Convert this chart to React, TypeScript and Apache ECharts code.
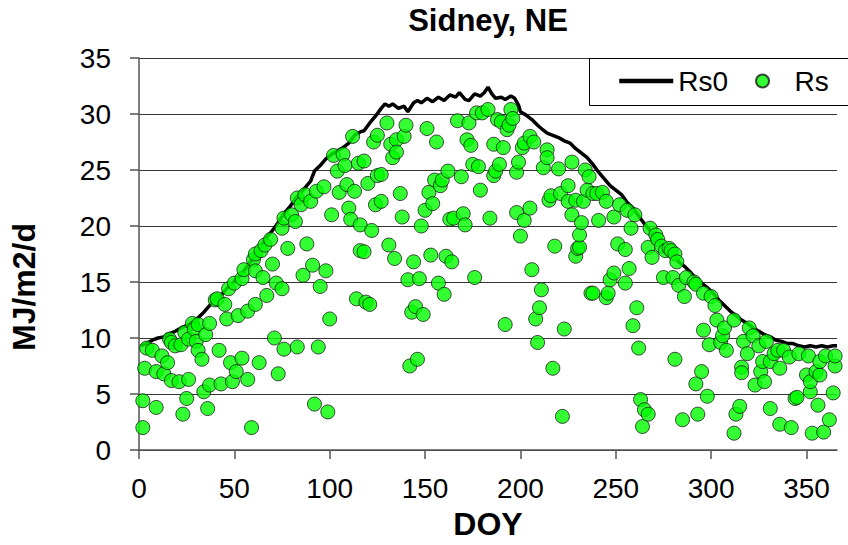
import React, { useEffect, useRef } from "react";
import * as echarts from "echarts";

const FONT = "'Liberation Sans', Arial, sans-serif";

const titleText = "Sidney, NE";
const xAxisName = "DOY";
const yAxisName = "MJ/m2/d";
const seriesNames = ["Rs0", "Rs"];
const xTicks = [0, 50, 100, 150, 200, 250, 300, 350];

// Clear-sky radiation Rs0: [DOY, MJ/m2/d]
const rs0Points: [number, number][] = [
  [1, 9.3], [4, 9.5], [7, 9.8], [10, 10.0], [13, 10.1], [16, 10.4], [19, 10.6], [22, 10.9],
  [25, 11.1], [28, 11.4], [31, 11.8], [34, 12.3], [37, 12.9], [40, 13.5], [43, 13.8], [46, 14.4],
  [49, 14.9], [52, 15.4], [55, 16.0], [58, 16.7], [61, 17.4], [64, 18.2], [67, 19.0], [70, 19.6],
  [73, 20.3], [76, 21.1], [79, 21.7], [82, 22.4], [85, 23.0], [88, 23.6], [90, 24.0], [92, 24.9],
  [95, 25.4], [98, 26.0], [101, 26.4], [104, 26.7], [107, 27.0], [110, 27.4], [113, 28.1], [116, 28.4],
  [118, 28.5], [121, 29.2], [124, 29.8], [127, 30.5], [129, 30.9], [131, 30.7], [133, 30.9], [136, 30.5],
  [139, 30.7], [141, 30.2], [144, 31.0], [146, 31.2], [148, 31.0], [151, 31.4], [154, 31.1], [157, 31.5],
  [160, 31.2], [163, 31.7], [166, 31.5], [168, 31.9], [171, 31.3], [173, 31.2], [176, 31.8], [179, 31.6],
  [181, 31.9], [183, 32.4], [185, 31.8], [187, 31.4], [190, 31.5], [192, 31.3], [195, 31.6], [197, 31.4],
  [199, 30.8], [200, 30.2], [203, 29.9], [206, 29.5], [209, 29.0], [211, 28.7], [214, 28.3], [217, 28.1],
  [220, 27.9], [223, 27.6], [226, 27.4], [229, 26.9], [232, 26.5], [235, 26.1], [238, 25.5], [241, 24.8],
  [244, 24.2], [247, 23.6], [250, 23.2], [253, 22.8], [256, 22.1], [259, 21.6], [262, 20.9], [265, 20.2],
  [268, 19.6], [271, 18.9], [274, 18.3], [277, 17.8], [280, 17.3], [283, 16.8], [286, 16.4], [289, 15.9],
  [292, 15.3], [295, 14.9], [298, 14.5], [301, 14.0], [304, 13.4], [307, 12.9], [310, 12.4], [313, 12.0],
  [316, 11.6], [319, 11.3], [322, 10.9], [325, 10.6], [328, 10.3], [331, 10.1], [334, 9.8], [337, 9.7],
  [340, 9.5], [343, 9.5], [346, 9.3], [349, 9.2], [352, 9.3], [355, 9.2], [358, 9.3], [361, 9.2],
  [364, 9.3], [366, 9.3],
];

// Measured solar radiation Rs, days 1-100
const rsWinterSpring: [number, number][] = [
  [2, 4.4], [9, 3.8], [2, 2.0], [3, 7.3], [4, 9.1], [7, 8.9], [9, 7.0], [12, 8.4], [13, 6.8], [15, 7.8],
  [16, 9.9], [17, 9.6], [17, 6.2], [19, 9.3], [21, 6.1], [22, 9.4], [23, 3.2], [24, 10.5], [25, 4.6],
  [26, 6.3], [26, 9.9], [28, 11.3], [29, 10.8], [30, 9.7], [31, 11.2], [31, 8.9], [33, 8.1], [34, 5.2],
  [35, 10.3], [36, 3.7], [37, 5.8], [37, 11.3], [40, 13.4], [41, 13.5], [42, 8.9], [43, 5.9], [45, 13.0],
  [46, 11.7], [47, 14.4], [48, 7.8], [49, 6.1], [50, 14.9], [51, 7.0], [52, 12.0], [54, 15.3], [54, 8.2],
  [55, 16.1], [57, 12.4], [57, 6.3], [59, 2.0], [60, 17.0], [61, 13.0], [61, 16.0], [61, 17.5], [63, 7.8],
  [64, 17.8], [65, 15.4], [66, 18.3], [67, 13.8], [69, 18.8], [70, 16.6], [71, 10.0], [72, 14.9], [73, 6.8],
  [75, 14.4], [75, 19.8], [76, 9.0], [76, 20.7], [78, 18.0], [80, 21.0], [82, 20.4], [83, 9.2], [83, 22.5],
  [85, 21.9], [86, 15.6], [87, 22.8], [88, 18.4], [90, 22.2], [91, 16.5], [92, 4.1], [93, 23.1], [94, 9.2],
  [95, 14.6], [97, 23.5], [98, 16.0], [99, 3.4], [100, 11.7],
];

// Measured solar radiation Rs, days 101-200
const rsSummer: [number, number][] = [
  [101, 21.0], [102, 26.3], [104, 24.9], [105, 23.0], [107, 26.4], [108, 25.4], [109, 23.7], [110, 21.6],
  [111, 20.6], [112, 28.0], [113, 23.1], [114, 13.5], [115, 25.6], [116, 20.1], [116, 17.8], [118, 17.7],
  [118, 25.8], [119, 13.2], [120, 23.8], [121, 13.0], [122, 19.6], [123, 27.5], [124, 21.9], [125, 24.5],
  [125, 28.1], [127, 24.6], [127, 22.2], [130, 29.2], [131, 18.3], [132, 27.3], [133, 26.1], [134, 17.1],
  [135, 27.7], [135, 26.6], [137, 22.9], [138, 20.8], [139, 28.0], [140, 29.0], [141, 15.2], [142, 7.5],
  [143, 12.3], [144, 16.8], [145, 12.8], [146, 8.1], [147, 15.3], [148, 20.0], [149, 12.1], [150, 21.4],
  [151, 28.7], [152, 23.0], [153, 17.4], [154, 22.0], [155, 24.1], [156, 27.5], [157, 14.9], [158, 23.6],
  [159, 24.1], [160, 13.9], [161, 17.3], [162, 24.9], [163, 20.6], [164, 16.8], [165, 20.7], [167, 29.4],
  [169, 24.4], [170, 21.1], [171, 20.1], [172, 27.7], [173, 29.2], [174, 27.2], [175, 25.5], [176, 15.4],
  [177, 30.1], [178, 25.3], [179, 23.2], [180, 30.1], [183, 30.4], [184, 20.7], [186, 24.5], [186, 27.3],
  [187, 24.9], [188, 29.5], [189, 25.5], [190, 29.3], [191, 27.0], [192, 11.2], [193, 28.6], [194, 29.0],
  [195, 30.4], [196, 29.6], [198, 24.8], [198, 21.2], [199, 25.7], [200, 19.1],
];

// Measured solar radiation Rs, days 201-366
const rsFallWinter: [number, number][] = [
  [201, 27.0], [202, 27.4], [202, 20.5], [205, 28.0], [205, 21.6], [206, 16.1], [207, 27.5], [208, 11.7],
  [209, 9.6], [210, 12.7], [211, 14.3], [212, 25.2], [214, 26.8], [214, 26.1], [215, 22.3], [216, 22.7],
  [217, 7.3], [218, 18.2], [220, 25.1], [221, 22.9], [222, 3.0], [223, 10.8], [225, 23.6], [225, 22.2],
  [227, 25.7], [227, 21.0], [229, 22.3], [229, 17.3], [230, 18.0], [231, 18.1], [231, 19.2], [232, 20.3],
  [233, 22.2], [234, 25.0], [235, 23.2], [236, 24.4], [237, 14.0], [238, 22.9], [238, 14.0], [240, 22.9],
  [241, 20.5], [243, 23.0], [245, 22.2], [245, 13.6], [246, 14.0], [247, 15.2], [249, 15.8], [249, 20.8],
  [251, 18.4], [252, 21.9], [255, 17.9], [255, 14.9], [256, 21.4], [257, 16.2], [258, 19.8], [259, 11.1],
  [260, 21.0], [261, 12.7], [262, 9.1], [263, 4.5], [264, 2.1], [265, 3.6], [267, 3.2], [267, 18.1],
  [268, 19.8], [269, 17.2], [271, 19.2], [272, 18.8], [274, 18.2], [275, 15.4], [276, 17.8], [278, 18.0],
  [279, 17.8], [280, 15.4], [281, 17.5], [281, 8.1], [282, 16.8], [283, 14.7], [285, 2.7], [286, 13.7],
  [287, 15.4], [291, 15.0], [292, 14.8], [292, 5.9], [293, 3.2], [295, 7.0], [296, 14.0], [296, 10.7],
  [298, 4.8], [299, 9.4], [300, 13.7], [302, 12.9], [303, 11.6], [305, 9.6], [306, 10.2], [307, 10.9],
  [308, 8.9], [312, 11.6], [312, 1.5], [313, 3.2], [315, 3.9], [316, 7.4], [316, 6.9], [317, 9.7],
  [319, 8.6], [320, 10.9], [322, 10.2], [323, 5.8], [325, 9.3], [326, 7.0], [327, 7.9], [328, 6.1],
  [329, 9.7], [331, 7.9], [331, 3.7], [333, 8.6], [335, 8.9], [336, 7.3], [336, 2.3], [338, 8.9],
  [341, 8.3], [342, 2.0], [344, 4.6], [345, 4.7], [346, 8.6], [350, 6.7], [351, 8.4], [352, 5.2],
  [352, 6.1], [353, 1.5], [355, 7.0], [356, 4.0], [357, 6.7], [357, 7.9], [359, 1.6], [360, 8.4],
  [362, 2.7], [364, 5.1], [365, 7.5], [365, 8.4],
];

export default function App() {
  const ref = useRef<HTMLDivElement>(null);

  useEffect(() => {
    if (!ref.current) return;
    const chart = echarts.init(ref.current, undefined, { renderer: "svg" });
    const rsPoints = [...rsWinterSpring, ...rsSummer, ...rsFallWinter];
    chart.setOption({
      animation: false,
      backgroundColor: "#ffffff",
      textStyle: { fontFamily: FONT },
      title: {
        text: titleText,
        left: 483,
        top: 0,
        textAlign: "center",
        textStyle: { fontFamily: FONT, fontSize: 31, fontWeight: "bold", color: "#000" },
      },
      graphic: [
        {
          type: "rect",
          z: 3,
          shape: { x: 589.5, y: 58.5, width: 300, height: 47 },
          style: { fill: "#ffffff", stroke: "#000000", lineWidth: 1 },
        },
      ],
      legend: {
        left: 617,
        top: 67,
        orient: "horizontal",
        padding: 0,
        z: 4,
        itemGap: 27,
        itemWidth: 54,
        itemHeight: 13,
        textStyle: { fontFamily: FONT, fontSize: 28, color: "#000" },
        data: [
          {
            name: seriesNames[0],
            lineStyle: { width: 4.5, color: "#000" },
            itemStyle: { color: "rgba(0,0,0,0)", borderColor: "rgba(0,0,0,0)", opacity: 0 },
          },
          { name: seriesNames[1] },
        ],
      },
      grid: { left: 137, right: 11, top: 58, bottom: 89, containLabel: false },
      xAxis: {
        type: "value",
        min: 0,
        max: 366,
        interval: 50,
        name: xAxisName,
        nameLocation: "middle",
        nameGap: 58,
        nameTextStyle: { fontFamily: FONT, fontSize: 32, fontWeight: "bold", color: "#000" },
        axisLine: { show: true, onZero: false, lineStyle: { color: "#555", width: 1.5 } },
        axisTick: { show: true, inside: false, length: 9, lineStyle: { color: "#555", width: 1.5 }, customValues: xTicks },
        axisLabel: { fontFamily: FONT, fontSize: 28, color: "#000", margin: 24, customValues: xTicks },
        splitLine: { show: false },
      },
      yAxis: {
        type: "value",
        min: 0,
        max: 35,
        interval: 5,
        name: yAxisName,
        nameLocation: "middle",
        nameRotate: 90,
        nameGap: 99,
        nameTextStyle: {
          fontFamily: FONT,
          fontSize: 32,
          fontWeight: "bold",
          color: "#000",
          padding: [0, 66, 0, 0],
        },
        axisLine: { show: true, lineStyle: { color: "#555", width: 1.5 } },
        axisTick: { show: true, inside: false, length: 9, lineStyle: { color: "#555", width: 1.5 } },
        axisLabel: { fontFamily: FONT, fontSize: 28, color: "#000", margin: 28 },
        splitLine: { show: true, lineStyle: { color: "#333", width: 1.2 } },
      },
      series: [
        {
          name: seriesNames[0],
          type: "line",
          data: rs0Points,
          symbol: "none",
          showSymbol: false,
          lineStyle: { color: "#000", width: 3.5 },
          itemStyle: { color: "#000" },
          z: 2,
        },
        {
          name: seriesNames[1],
          type: "scatter",
          data: rsPoints,
          symbol: "circle",
          symbolSize: 14,
          itemStyle: { color: "#00ff00", borderColor: "#1a1a1a", borderWidth: 1 },
          z: 3,
        },
      ],
    });
    return () => chart.dispose();
  }, []);

  return (
    <div
      ref={ref}
      style={{ position: "absolute", left: 0, top: 0, width: 848, height: 545 }}
    />
  );
}
